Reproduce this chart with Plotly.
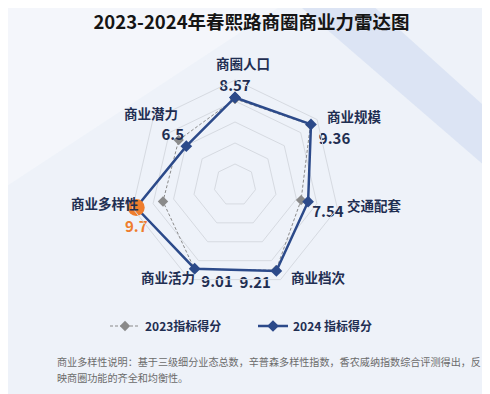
import plotly.graph_objects as go

categories = ["商圈人口", "商业规模", "交通配套", "商业档次", "商业活力", "商业多样性", "商业潜力"]
scores_2023 = [8.45, 9.3, 6.95, 9.15, 9.05, 7.45, 7.3]
scores_2024 = [8.57, 9.36, 7.54, 9.21, 9.01, 9.7, 6.5]
value_labels_2024 = ["8.57", "9.36", "7.54", "9.21", "9.01", "9.7", "6.5"]
series_names = ["2023指标得分", "2024 指标得分"]
title_text = "2023-2024年春熙路商圈商业力雷达图"
note_lines = ["商业多样性说明：基于三级细分业态总数，辛普森多样性指数，香农威纳指数综合评测得出，反",
              "映商圈功能的齐全和均衡性。"]

FONT = "Noto Sans CJK SC"
NAVY = "#2c4a8a"
LABEL = "#1f2e52"
ORANGE = "#ef7d2d"
GRAY = "#8a8a8a"

W, H = 490, 394
cx, cy, R = 227, 177, 105

# category label placement (pixel centres) around the radar
label_pos = [(235, 63), (346, 116), (366, 205), (310, 277), (160, 277), (97, 203), (143, 113)]
LBL_SHIFT = 8  # compensate CJK font vertical metrics

fig = go.Figure()

def closed(a):
    return list(a) + [a[0]]

fig.add_trace(go.Scatterpolar(
    r=closed(scores_2023), theta=closed(categories), name=series_names[0],
    mode="lines+markers",
    line=dict(color=GRAY, width=1, dash="3px,2px"),
    marker=dict(symbol="diamond", size=8, color=GRAY),
    hoverinfo="skip",
))

fig.add_trace(go.Scatterpolar(
    r=closed(scores_2024), theta=closed(categories), name=series_names[1],
    mode="lines+markers",
    line=dict(color=NAVY, width=2.5),
    marker=dict(symbol="diamond", size=9, color=NAVY),
    hoverinfo="skip",
))

hi = categories.index("商业多样性")
fig.add_trace(go.Scatterpolar(
    r=[scores_2024[hi]], theta=[categories[hi]], mode="markers",
    marker=dict(size=17, color=ORANGE), showlegend=False, hoverinfo="skip",
))

positions = ["top center", "bottom right", "bottom right", "bottom left",
             "bottom right", "bottom center", "top left"]
offset_sizes = [3, 11, 5, 7, 9, 20, 2]  # invisible marker sizes controlling label offset
colors = [ORANGE if i == hi else LABEL for i in range(len(categories))]
fig.add_trace(go.Scatterpolar(
    r=scores_2024, theta=categories, mode="markers+text",
    marker=dict(size=offset_sizes, opacity=0),
    text=value_labels_2024, textposition=positions,
    textfont=dict(family=FONT, size=15, color=colors, weight="bold"),
    showlegend=False, hoverinfo="skip",
))

rmin, rmax = 1.4, 10
step = (rmax - rmin) / 5

annotations = []
for name, (px, py) in zip(categories, label_pos):
    annotations.append(dict(text=name, x=px / W, y=1 - (py - LBL_SHIFT) / H, xref="paper", yref="paper",
                            xanchor="center", yanchor="middle", showarrow=False,
                            font=dict(family=FONT, size=13.5, color=LABEL, weight=600)))
for i, (line, py) in enumerate(zip(note_lines, [362, 378])):
    annotations.append(dict(text=line, x=47 / W, y=1 - (py - 9) / H, xref="paper", yref="paper",
                            xanchor="left", yanchor="middle", align="left", showarrow=False,
                            font=dict(family=FONT, size=10.1, color="#6b6b6b")))

fig.update_layout(
    width=W, height=H,
    margin=dict(l=0, r=0, t=0, b=0),
    paper_bgcolor="#eef2f9",
    plot_bgcolor="rgba(0,0,0,0)",
    font=dict(family=FONT, color=LABEL),
    title=dict(text=title_text, x=0.497, xanchor="center", y=1 - 15 / H, yanchor="middle",
               font=dict(family=FONT, size=18.5, color="#151515", weight="bold")),
    polar=dict(
        domain=dict(x=[(cx - R) / W, (cx + R) / W], y=[1 - (cy + R) / H, 1 - (cy - R) / H]),
        bgcolor="rgba(0,0,0,0)",
        gridshape="linear",
        radialaxis=dict(range=[rmin, rmax], tickvals=[rmin + step * k for k in range(1, 6)],
                        showticklabels=False, ticks="", showline=False,
                        gridcolor="#d6dae1", gridwidth=1),
        angularaxis=dict(direction="clockwise", rotation=90, showgrid=False,
                         linecolor="#d6dae1", linewidth=1, ticks="", showticklabels=False),
    ),
    legend=dict(orientation="h", x=0.5, xanchor="center", y=1 - 318 / H, yanchor="middle",
                font=dict(family=FONT, size=12, color=LABEL, weight="bold"),
                bgcolor="rgba(0,0,0,0)", entrywidth=103),
    annotations=annotations,
    shapes=[
        dict(type="path", xref="paper", yref="paper", layer="below",
             path="M 0.60 1 L 0.75 1 L 1 0.72 L 1 0.57 Z",
             fillcolor="rgba(185,203,236,0.35)", line=dict(width=0)),
        dict(type="path", xref="paper", yref="paper", layer="below",
             path="M 0 1 L 0.55 1 L 0 0.55 Z",
             fillcolor="rgba(255,255,255,0.35)", line=dict(width=0)),
    ],
)

fig.write_html("out.html")
